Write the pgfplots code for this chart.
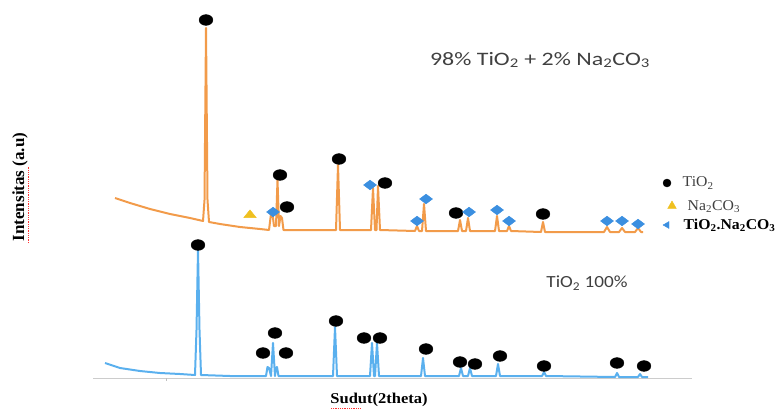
\documentclass[border=0pt]{standalone}
\usepackage{pgfplots}
\pgfplotsset{compat=1.18}
\usepackage{fontspec}
\setmainfont{Liberation Serif}
\newfontfamily\carlito{Carlito}
\definecolor{orng}{HTML}{F29B4A}
\definecolor{blu}{HTML}{5AB0EE}
\definecolor{dia}{HTML}{3B8FE0}
\definecolor{tri}{HTML}{EFC020}
\definecolor{ttl}{HTML}{404040}
\begin{document}
\begin{tikzpicture}[x=1pt,y=1pt]
\useasboundingbox (0,0) rectangle (775,412);
\begin{axis}[at={(0,0)}, anchor=south west, scale only axis,
  width=775pt, height=412pt, xmin=0, xmax=775, ymin=0, ymax=412,
  y dir=reverse, hide axis, clip=false]
% gray baseline
\addplot[black!20, line width=0.8pt] coordinates {(93,378) (692,378)};
\addplot[black!25, line width=0.6pt] coordinates {(166,378) (166,381)};
% orange pattern
\addplot[orng, line width=2pt, line join=round] coordinates {
(115,198) (130,203) (150,209) (170,214) (190,218) (203,221) (204.5,200) (206,28) (207.5,200) (209,222)
(220,224) (240,227) (260,229) (269,230) (271,214) (272.5,214) (274,226) (276,226) (277.5,180) (279,226) (280.5,216) (282,218) (283.5,230)
(300,230) (336,230) (338,165) (340,230) (371,230) (373,188) (375,230) (376.5,230) (378,186) (380,230)
(415,231) (417,226) (419,231) (422,231) (424,204) (426,231)
(458,231) (460,220) (462,231) (466,231) (468,218) (470,231)
(495,231) (497,216) (499,231) (507,231) (509,226) (511,231)
(541,232) (543,222) (545,232)
(604,232) (607,227) (610,232) (619,232) (622,228) (625,232) (635,232) (638,228) (641,232) (643,232)};
% blue pattern
\addplot[blu, line width=2pt, line join=round] coordinates {
(105,363) (120,368) (140,371) (160,373) (180,374) (195,375) (196.5,330) (198,250) (199.5,330) (201,375)
(230,376) (266,376) (267.5,367) (269,368) (271,376) (273,343) (275,376) (276,368) (277,367) (278.5,376)
(333,376) (335,327) (337,376) (370,376) (372,343) (374,376) (375,376) (377,343) (379,376)
(421,376) (423,358) (425,376) (459,376) (461,368) (463,376) (468,376) (470,368) (472,376)
(496,376) (498,364) (500,376) (542,376) (544,372) (546,376)
(615,377) (617,373) (619,377) (638,377) (640,374) (642,377) (648,377)};
% TiO2 dots
\addplot[only marks, mark=*, mark size=6pt, mark options={black, xscale=1.15, yscale=0.9}] coordinates {
(206,20) (280,175) (287,207) (339,159) (385,183) (456,213) (543,214)
(198,245) (263,353) (275,333) (286,353) (336,321) (364,338) (380,338) (426,349)
(460,362) (475,364) (500,356) (544,366) (617,363) (644,366)};
% Na2CO3 triangle
\addplot[only marks, mark=triangle*, mark size=6pt, mark options={tri, xscale=1.2, yscale=0.85}] coordinates {(250,215)};
% TiO2.Na2CO3 diamonds
\addplot[only marks, mark=diamond*, mark size=6.5pt, mark options={dia, rotate=90}] coordinates {
(273,212) (370,185) (417,221) (426,199) (469,212) (497,210) (509,221) (607,221) (622,221) (638,224)};
% legend symbols
\addplot[only marks, mark=*, mark size=4pt, mark options={black}] coordinates {(667,183)};
\addplot[only marks, mark=triangle*, mark size=5pt, mark options={tri}] coordinates {(672,206)};
\addplot[only marks, mark=triangle*, mark size=4pt, mark options={dia, rotate=90}] coordinates {(667,225)};
% legend texts
\node[anchor=west, text=black!75, font=\fontsize{15}{17}\selectfont, xscale=1.05] at (axis cs:679,183) {TiO\textsubscript{2}};
\node[anchor=west, text=black!75, font=\fontsize{15}{17}\selectfont, xscale=1.05] at (axis cs:684,207) {Na\textsubscript{2}CO\textsubscript{3}};
\node[anchor=west, text=black, font=\bfseries\fontsize{15}{17}\selectfont, xscale=1.05] at (axis cs:680,225) {TiO\textsubscript{2}.Na\textsubscript{2}CO\textsubscript{3}};
% titles
\node[text=ttl, font=\carlito\fontsize{19}{21}\selectfont, xscale=1.26] at (axis cs:540,60) {98\% TiO\textsubscript{2} + 2\% Na\textsubscript{2}CO\textsubscript{3}};
\node[text=ttl, font=\carlito\fontsize{17}{19}\selectfont, xscale=1.13] at (axis cs:587,283) {TiO\textsubscript{2} 100\%};
% axis labels
\node[rotate=90, font=\bfseries\fontsize{17}{19}\selectfont] at (axis cs:20,187) {Intensitas (a.u)};
\node[font=\bfseries\fontsize{15}{17}\selectfont, xscale=1.1] at (axis cs:379,400) {Sudut(2theta)};
\addplot[red!80, densely dotted, line width=0.8pt] coordinates {(28,243) (28,166)};
\addplot[red!80, densely dotted, line width=0.8pt] coordinates {(331,408) (361,408)};
\end{axis}
\end{tikzpicture}
\end{document}
